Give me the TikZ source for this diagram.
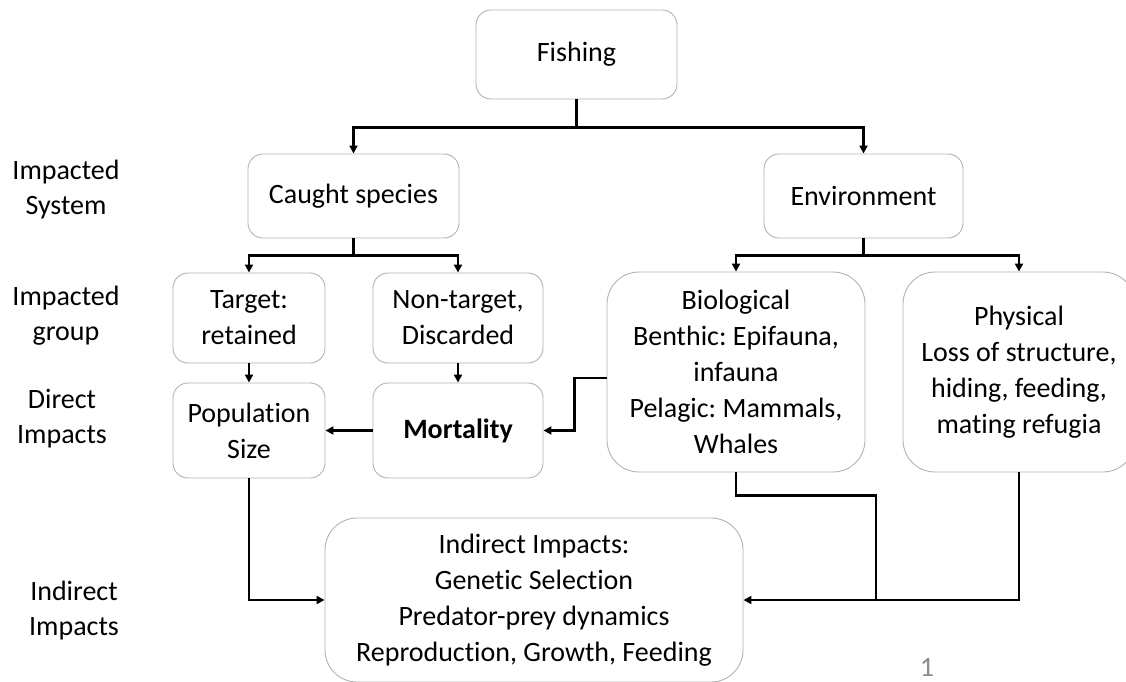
\documentclass[tikz,border=0pt]{standalone}
\usepackage{fontspec}
\setmainfont{Carlito}[Ligatures=NoCommon]
\usetikzlibrary{positioning,arrows.meta}
\frenchspacing

\begin{document}
\begin{tikzpicture}[x=1pt,y=-1pt,
    box/.style={draw=black!30,line width=0.9pt,rounded corners=15pt,align=center,
        inner sep=0pt,font=\fontsize{28}{36}\selectfont},
    bigbox/.style={box,rounded corners=32pt},
    level/.style={align=center,font=\fontsize{28}{35}\selectfont},
    wire/.style={line width=2.3pt},
    conn/.style={wire,-{Triangle[length=8pt,width=8pt]}}]
    \clip (0,0) rectangle (1126,682);
    % Fishing and what it hits
    \node[box,minimum width=201pt,minimum height=89pt] (fish) at (576.5,54.5) {Fishing};
    \node[box,minimum width=211pt,minimum height=84pt] (caught) at (353.5,196) {Caught species};
    \node[box,minimum width=199pt,minimum height=84pt] (env) at (863.5,196) {Environment};
    % groups
    \node[box,minimum width=152pt,minimum height=90pt] (target) at (249,318) {Target:\\retained};
    \node[box,minimum width=170pt,minimum height=90pt] (nontarget) at (458,318) {Non-target,\\Discarded};
    \node[bigbox,minimum width=258pt,minimum height=200pt] (bio) at (736,372)
        {Biological\\Benthic: Epifauna,\\infauna\\Pelagic: Mammals,\\Whales};
    \node[bigbox,minimum width=232pt,minimum height=200pt] (phys) at (1019,372)
        {Physical\\Loss of structure,\\hiding, feeding,\\mating refugia};
    % direct impacts
    \node[box,minimum width=152pt,minimum height=95pt] (pop) at (249,430.5) {Population\\Size};
    \node[box,minimum width=170pt,minimum height=95pt] (mort) at (458,430.5) {\textbf{Mortality}};
    \node[bigbox,minimum width=418pt,minimum height=164pt] (ind) at (534,600)
        {Indirect Impacts:\\Genetic Selection\\Predator-prey dynamics\\Reproduction, Growth, Feeding};
    % row labels
    \node[level] (lsys) at (66,190) {Impacted\\System};
    \node[level] (lgrp) at (66,316) {Impacted\\group};
    \node[level] (ldir) at (62,419) {Direct\\Impacts};
    \node[level] (lind) at (74,611) {Indirect\\Impacts};
    \node[text=black!45,font=\fontsize{28}{30}\selectfont] (pg) at (927,667) {1};
    \coordinate (join) at (876,601);

    \draw[conn] (fish.south) -- ++(0,28) -| (caught.north);
    \draw[conn] (fish.south) -- ++(0,28) -| (env.north);
    \draw[conn] (caught.south) -- ++(0,17) -| (target.north);
    \draw[conn] (caught.south) -- ++(0,17) -| (nontarget.north);
    \draw[conn] (env.south) -- ++(0,17) -| (bio.north);
    \draw[conn] (env.south) -- ++(0,17) -| (phys.north);
    \draw[conn] (target) -- (pop);
    \draw[conn] (nontarget) -- (mort);
    \draw[conn] (mort) -- (pop);
    \draw[conn] ([yshift=-6pt]bio.west) -- ++(-32,0) |- (mort.east);
    \draw[conn] (pop.south) |- (ind.west);
    \draw[wire] (bio.south) -- ++(0,23) -| (join);
    \draw[conn] (phys.south) |- (ind.east);
\end{tikzpicture}
\end{document}
